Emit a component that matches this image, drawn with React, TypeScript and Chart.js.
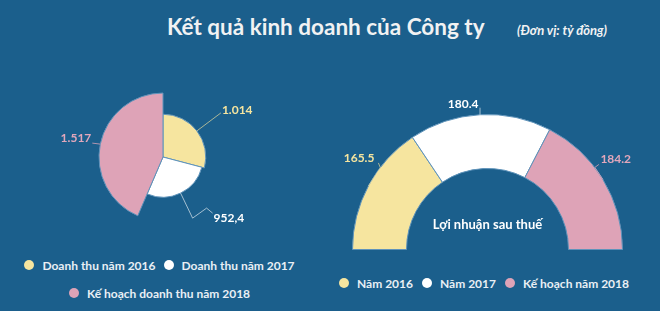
import React, { useEffect, useRef } from 'react';
import { Chart, registerables } from 'chart.js';

Chart.register(...registerables);

// ---- Data ----
const revenueCategories = ['Doanh thu năm 2016', 'Doanh thu năm 2017', 'Kế hoạch doanh thu năm 2018'];
const revenueValues = [1014, 952.4, 1517];
const revenueValueLabels = ['1.014', '952,4', '1.517'];

const profitCategories = ['Năm 2016', 'Năm 2017', 'Kế hoạch năm 2018'];
const profitValues = [165.5, 180.4, 184.2];
const profitValueLabels = ['165.5', '180.4', '184.2'];

const titleText = 'Kết quả kinh doanh của Công ty';
const unitText = '(Đơn vị: tỷ đồng)';
const profitCenterText = 'Lợi nhuận sau thuế';

// ---- Styles ----
const seriesColors = ['#f6e59f', '#ffffff', '#dea3b7'];
const labelColors = ['#f6e59f', '#ffffff', '#e2a7bb'];
const leaderColors = ['rgba(246,229,159,0.65)', 'rgba(255,255,255,0.6)', 'rgba(226,167,187,0.75)'];
const BG = '#1b5f8c';
const SEP = '#5f93ba';
const FONT = 'Lato, "Noto Sans", sans-serif';
const LEGEND_TEXT = '#e9eff5';

type LeaderCfg = {
  texts: string[];
  paths: number[][][];
  textPos: [number, number, CanvasTextAlign][];
  centerText?: string;
  centerDy?: number;
};

function makeLeaderPlugin(cfg: LeaderCfg) {
  return {
    id: 'leaderLabels',
    afterDatasetsDraw(chart: any) {
      const meta = chart.getDatasetMeta(0);
      const ctx: CanvasRenderingContext2D = chart.ctx;
      ctx.save();
      let cx = 0;
      let cy = 0;
      meta.data.forEach((el: any, i: number) => {
        const p = el.getProps(['x', 'y', 'startAngle', 'endAngle', 'outerRadius'], true);
        cx = p.x;
        cy = p.y;
        const mid = (p.startAngle + p.endAngle) / 2;
        const ax = p.x + Math.cos(mid) * p.outerRadius;
        const ay = p.y + Math.sin(mid) * p.outerRadius;
        let lx = ax;
        let ly = ay;
        ctx.beginPath();
        ctx.moveTo(ax, ay);
        cfg.paths[i].forEach(([dx, dy]) => {
          lx = ax + dx;
          ly = ay + dy;
          ctx.lineTo(lx, ly);
        });
        ctx.strokeStyle = leaderColors[i];
        ctx.lineWidth = 1;
        ctx.stroke();
        const [tx, ty, align] = cfg.textPos[i];
        ctx.font = `bold 12px ${FONT}`;
        ctx.fillStyle = labelColors[i];
        ctx.textAlign = align;
        ctx.textBaseline = 'middle';
        ctx.fillText(cfg.texts[i], lx + tx, ly + ty);
      });
      if (cfg.centerText) {
        ctx.font = `bold 13px ${FONT}`;
        ctx.fillStyle = '#ffffff';
        ctx.textAlign = 'center';
        ctx.textBaseline = 'middle';
        ctx.fillText(cfg.centerText, cx, cy + (cfg.centerDy || 0));
      }
      ctx.restore();
    },
  };
}

function Legend({ labels, style, gap }: { labels: string[]; style: React.CSSProperties; gap: number }) {
  return (
    <div
      style={{
        position: 'absolute',
        display: 'flex',
        flexWrap: 'wrap',
        justifyContent: 'center',
        columnGap: gap,
        rowGap: 14,
        ...style,
      }}
    >
      {labels.map((l, i) => (
        <div key={l} style={{ display: 'flex', alignItems: 'center', height: 14, lineHeight: '14px' }}>
          <span
            style={{
              display: 'inline-block',
              width: 10,
              height: 10,
              borderRadius: '50%',
              background: seriesColors[i],
              marginRight: 8,
            }}
          />
          <span style={{ font: `bold 12px ${FONT}`, color: LEGEND_TEXT, whiteSpace: 'nowrap' }}>{l}</span>
        </div>
      ))}
    </div>
  );
}

export default function App() {
  const leftRef = useRef<HTMLCanvasElement>(null);
  const rightRef = useRef<HTMLCanvasElement>(null);

  useEffect(() => {
    const total = revenueValues.reduce((a, b) => a + b, 0);
    const left = new Chart(leftRef.current as HTMLCanvasElement, {
      type: 'polarArea',
      data: {
        labels: revenueCategories,
        datasets: [
          {
            data: revenueValues,
            backgroundColor: seriesColors,
            borderColor: SEP,
            borderWidth: 1,
            angle: revenueValues.map((v) => (v / total) * 360),
          } as any,
        ],
      },
      options: {
        responsive: false,
        animation: false,
        layout: { padding: { left: 99, right: 103, top: 33, bottom: 29 } },
        scales: { r: { display: false, min: 0, max: Math.max(...revenueValues) } },
        plugins: { legend: { display: false }, tooltip: { enabled: false } },
      },
      plugins: [
        makeLeaderPlugin({
          texts: revenueValueLabels,
          paths: [[[24, -18]], [[12, 25], [26, 15], [32, 20]], [[-8, -1]]],
          textPos: [
            [1, -3, 'left'],
            [1, 5, 'left'],
            [-1, -5, 'right'],
          ],
        }),
      ],
    });

    const right = new Chart(rightRef.current as HTMLCanvasElement, {
      type: 'doughnut',
      data: {
        labels: profitCategories,
        datasets: [
          {
            data: profitValues,
            backgroundColor: seriesColors,
            borderColor: SEP,
            borderWidth: 1,
          },
        ],
      },
      options: {
        responsive: false,
        animation: false,
        rotation: -90,
        circumference: 180,
        cutout: '60%',
        layout: { padding: { left: 21, right: 36, top: 54, bottom: 10 } },
        plugins: { legend: { display: false }, tooltip: { enabled: false } },
      },
      plugins: [
        makeLeaderPlugin({
          texts: profitValueLabels,
          paths: [[[12, -18], [10, -23]], [[0, -7]], [[-8, -12], [-4, -15]]],
          textPos: [
            [-4, -5, 'right'],
            [-1.5, -3.5, 'right'],
            [1.5, -5, 'left'],
          ],
          centerText: profitCenterText,
          centerDy: -25,
        }),
      ],
    });

    return () => {
      left.destroy();
      right.destroy();
    };
  }, []);

  return (
    <div
      style={{
        position: 'fixed',
        left: 0,
        top: 0,
        width: 660,
        height: 311,
        background: BG,
        overflow: 'hidden',
      }}
    >
      <div
        style={{
          position: 'absolute',
          left: 167,
          top: 16,
          font: `bold 22.5px ${FONT}`,
          lineHeight: '22.5px',
          color: '#f1f2f3',
          whiteSpace: 'nowrap',
        }}
      >
        {titleText}
      </div>
      <div
        style={{
          position: 'absolute',
          left: 517,
          top: 23.5,
          font: `italic bold 13px ${FONT}`,
          lineHeight: '13px',
          color: '#f1f2f3',
          whiteSpace: 'nowrap',
        }}
      >
        {unitText}
      </div>
      <canvas ref={leftRef} width={330} height={190} style={{ position: 'absolute', left: 0, top: 60 }} />
      <canvas ref={rightRef} width={330} height={200} style={{ position: 'absolute', left: 330, top: 60 }} />
      <Legend labels={revenueCategories} gap={8} style={{ left: 0, top: 258, width: 319 }} />
      <Legend labels={profitCategories} gap={9} style={{ left: 330, top: 276, width: 308 }} />
    </div>
  );
}
